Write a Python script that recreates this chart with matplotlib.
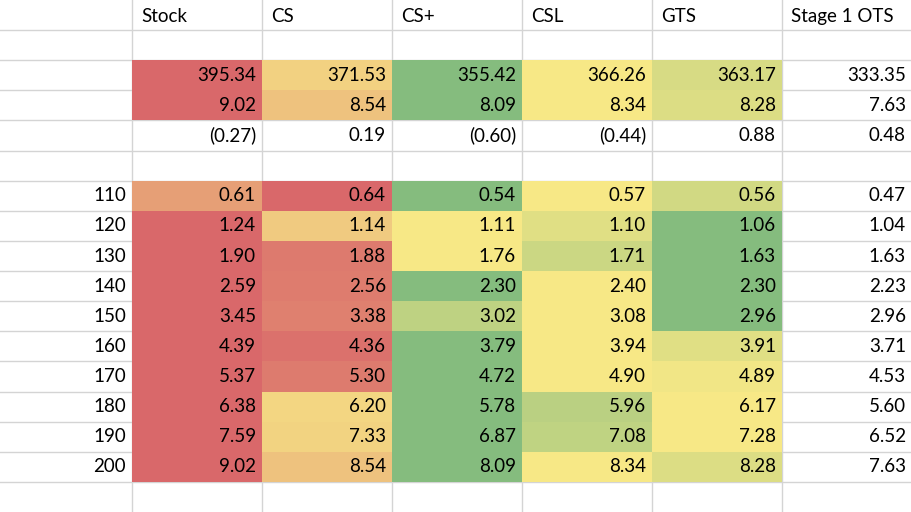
import numpy as np
import matplotlib.pyplot as plt
from matplotlib.colors import to_rgb

plt.rcParams['font.family'] = ['Lato', 'DejaVu Sans']

columns = ["Stock", "CS", "CS+", "CSL", "GTS", "Stage 1 OTS"]
row_labels = ["", "", "", "", "", "", "110", "120", "130", "140", "150",
              "160", "170", "180", "190", "200", ""]
summary_mean = [395.34, 371.53, 355.42, 366.26, 363.17, 333.35]
summary_std = [9.02, 8.54, 8.09, 8.34, 8.28, 7.63]
summary_skew = [-0.27, 0.19, -0.60, -0.44, 0.88, 0.48]
levels = [
    [0.61, 0.64, 0.54, 0.57, 0.56, 0.47],
    [1.24, 1.14, 1.11, 1.10, 1.06, 1.04],
    [1.90, 1.88, 1.76, 1.71, 1.63, 1.63],
    [2.59, 2.56, 2.30, 2.40, 2.30, 2.23],
    [3.45, 3.38, 3.02, 3.08, 2.96, 2.96],
    [4.39, 4.36, 3.79, 3.94, 3.91, 3.71],
    [5.37, 5.30, 4.72, 4.90, 4.89, 4.53],
    [6.38, 6.20, 5.78, 5.96, 6.17, 5.60],
    [7.59, 7.33, 6.87, 7.08, 7.28, 6.52],
    [9.02, 8.54, 8.09, 8.34, 8.28, 7.63],
]

RED = np.array(to_rgb("#D9686A"))
YEL = np.array(to_rgb("#F7E886"))
GRN = np.array(to_rgb("#85BC7E"))


def scale_colors(vals):
    v = np.array(vals[:5], dtype=float)
    lo, mid, hi = v.min(), np.median(v), v.max()
    out = []
    for x in v:
        if x >= mid:
            t = 0 if hi == mid else (x - mid) / (hi - mid)
            out.append(YEL + (RED - YEL) * t)
        else:
            t = 0 if mid == lo else (mid - x) / (mid - lo)
            out.append(YEL + (GRN - YEL) * t)
    return out


def fmt(x):
    return f"({abs(x):.2f})" if x < 0 else f"{x:.2f}"


# rows: (values, colored)
table = [None, None, (summary_mean, True), (summary_std, True),
         (summary_skew, False), None] + [(r, True) for r in levels] + [None]

W, H = 912, 512
fig = plt.figure(figsize=(W / 100, H / 100), dpi=100)
ax = fig.add_axes([0, 0, 1, 1])
ax.set_xlim(0, W)
ax.set_ylim(H, 0)
ax.axis("off")

col_x = [0, 132, 262, 392, 522, 652, 782, 912]
nrows = len(row_labels)
rh = H / nrows

# grid
for x in col_x[1:-1]:
    ax.plot([x, x], [0, H], color="#D4D4D4", lw=1)
for i in range(1, nrows):
    ax.plot([0, W], [i * rh, i * rh], color="#D4D4D4", lw=1)

fs = 13.5
for j, c in enumerate(columns):
    ax.text(col_x[j + 1] + 9, 0.55 * rh, c, va="center", ha="left", fontsize=fs)

for i, entry in enumerate(table):
    y0 = i * rh
    if row_labels[i]:
        ax.text(col_x[1] - 6, y0 + rh / 2, row_labels[i], ha="right",
                va="center", fontsize=fs)
    if entry is None:
        continue
    vals, colored = entry
    cols = scale_colors(vals) if colored else None
    for j, v in enumerate(vals):
        x0, x1 = col_x[j + 1], col_x[j + 2]
        if colored and j < 5:
            ax.add_patch(plt.Rectangle((x0, y0), x1 - x0, rh,
                                       facecolor=cols[j], edgecolor="none", zorder=2))
        ax.text(x1 - 6, y0 + rh / 2, fmt(v), ha="right", va="center",
                fontsize=fs, zorder=3)

fig.savefig("out.png", dpi=100)
